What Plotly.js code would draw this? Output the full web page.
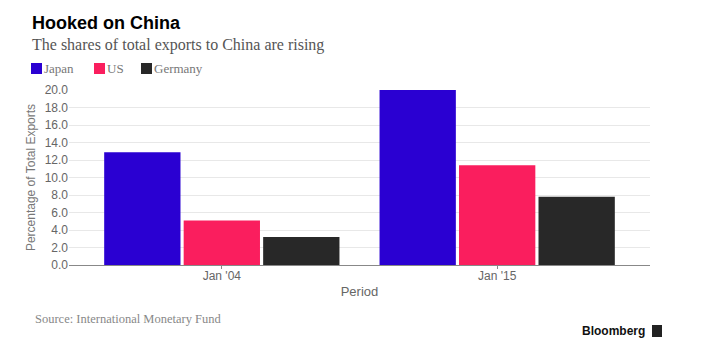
<!DOCTYPE html>
<html><head><meta charset="utf-8">
<script src="https://cdn.plot.ly/plotly-3.0.1.min.js"></script>
<style>html,body{margin:0;padding:0;background:#fff;}#chart{width:701px;height:359px;}</style>
</head><body><div id="chart"></div>
<script>
const periods = ["Jan '04", "Jan '15"];
const seriesNames = ["Japan", "US", "Germany"];
const japan = [12.9, 20.0];
const us = [5.1, 11.4];
const germany = [3.2, 7.8];
const yTicks = [0, 2, 4, 6, 8, 10, 12, 14, 16, 18, 20];
const colors = ["#2a00d2", "#fa1e5e", "#282828"];

const values = [japan, us, germany];
const traces = values.map((v, i) => ({
  type: 'bar', x: periods, y: v, name: seriesNames[i],
  marker: {color: colors[i], line: {color: colors[i], width: 0}},
  showlegend: false, hoverinfo: 'skip'
}));

const serif = 'Liberation Serif, DejaVu Serif, serif';
const sans = 'Liberation Sans, Arial, sans-serif';
const legendX = [31, 94, 141];
const W = 701, H = 359;
const M = {l: 69, r: 51, t: 90, b: 94};
const PW = W - M.l - M.r, PH = H - M.t - M.b;
function px(x){return (x - M.l) / PW;}
function py(y){return 1 - (y - M.t) / PH;}
const ann = [];
ann.push({text: '<b>Hooked on China</b>', x: px(30), y: py(11), xref: 'paper', yref: 'paper', xanchor: 'left', yanchor: 'top', showarrow: false, font: {family: sans, size: 18, color: '#000'}});
ann.push({text: 'The shares of total exports to China are rising', x: px(30), y: py(34), xref: 'paper', yref: 'paper', xanchor: 'left', yanchor: 'top', showarrow: false, font: {family: serif, size: 16, color: '#555'}});
seriesNames.forEach((n, i) => {
  ann.push({text: n, x: px(legendX[i] + 11), y: py(68), xref: 'paper', yref: 'paper', xanchor: 'left', yanchor: 'middle', showarrow: false, font: {family: serif, size: 13, color: '#777'}});
});
ann.push({text: 'Source: International Monetary Fund', x: px(33), y: py(319), xref: 'paper', yref: 'paper', xanchor: 'left', yanchor: 'middle', showarrow: false, font: {family: serif, size: 12.5, color: '#888'}});
ann.push({text: '<b>Bloomberg</b>', x: px(647), y: py(331), xref: 'paper', yref: 'paper', xanchor: 'right', yanchor: 'middle', showarrow: false, font: {family: sans, size: 12, color: '#111'}});

const shapes = seriesNames.map((n, i) => ({
  type: 'rect', xref: 'paper', yref: 'paper',
  x0: px(legendX[i]), x1: px(legendX[i] + 11), y0: py(74), y1: py(63),
  fillcolor: colors[i], line: {width: 0}
}));
shapes.push({type: 'rect', xref: 'paper', yref: 'paper', x0: px(652), x1: px(662), y0: py(337), y1: py(325), fillcolor: '#222', line: {width: 0}});

const layout = {
  width: W, height: H,
  margin: M,
  paper_bgcolor: '#fff', plot_bgcolor: '#fff',
  barmode: 'group', bargap: 0.134, bargroupgap: 0.04,
  xaxis: {
    type: 'category', range: [-0.555, 1.555],
    showline: true, linecolor: '#888', linewidth: 1,
    ticks: 'outside', ticklen: 3, tickcolor: '#888',
    ticklabelstandoff: -3,
    tickfont: {family: sans, size: 12, color: '#666'},
    title: {text: 'Period', font: {family: sans, size: 13, color: '#666'}, standoff: 4},
    showgrid: false, zeroline: false
  },
  yaxis: {
    range: [0, 20.0], tickvals: yTicks, ticktext: yTicks.map(v => v.toFixed(1)),
    showgrid: true, gridcolor: '#e8e8e8', gridwidth: 1,
    zeroline: false, showline: false, ticks: '',
    tickfont: {family: sans, size: 12, color: '#666'},
    title: {text: 'Percentage of Total Exports', font: {family: sans, size: 12, color: '#777'}, standoff: 6},
  },
  annotations: ann, shapes: shapes, showlegend: false
};
Plotly.newPlot('chart', traces, layout, {displayModeBar: false, staticPlot: true});
</script></body></html>
